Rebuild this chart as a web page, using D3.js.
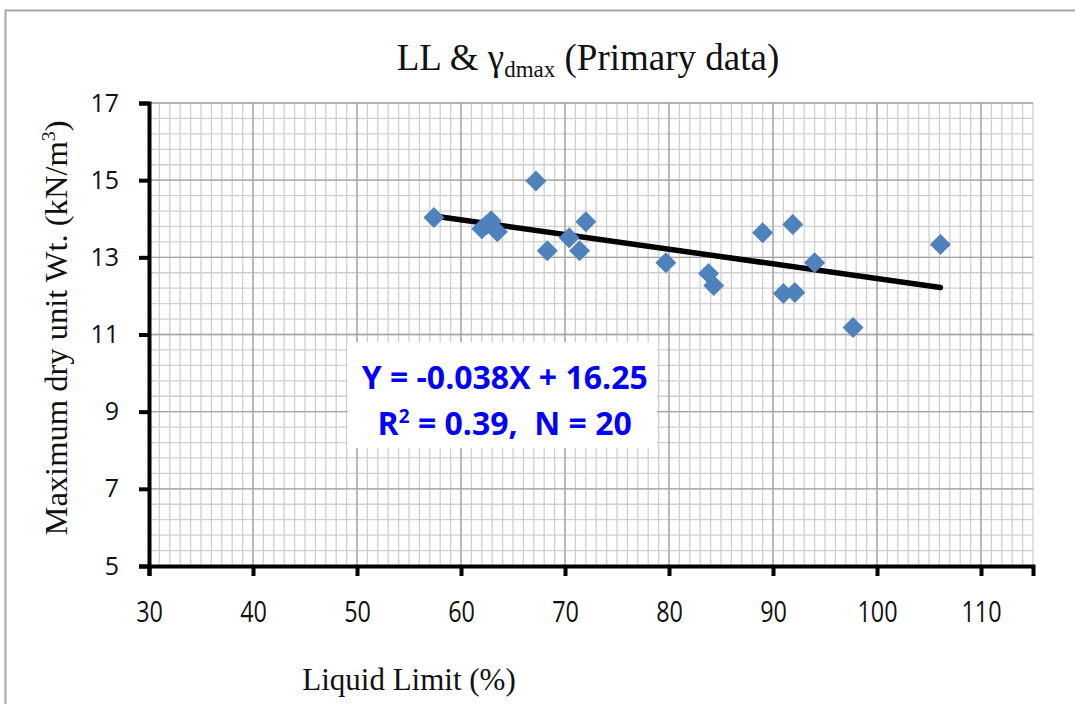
<!DOCTYPE html>
<html>
<head>
<meta charset="utf-8">
<script src="https://cdn.jsdelivr.net/npm/d3@7"></script>
<style>
  body{margin:0;background:#fff;}
  svg{display:block;}
</style>
</head>
<body>
<svg width="1075" height="704"></svg>
<script>
// liquid limit (%) and max dry unit weight (kN/m3)
var liquidLimit=[57.4,67.2,62.0,62.9,63.5,62.5,68.3,70.4,72.0,71.4,79.7,83.8,84.3,89.0,91.9,91.0,92.1,94.0,97.7,106.1];
var dryUnitWt=[14.03,14.98,13.74,13.95,13.66,13.85,13.17,13.51,13.92,13.17,12.86,12.58,12.27,13.64,13.85,12.06,12.09,12.86,11.18,13.33];
var xTicks=[30,40,50,60,70,80,90,100,110];
var yTicks=[5,7,9,11,13,15,17];
var slope=-0.038, intercept=16.25;

var svg=d3.select('svg');
var margin={top:103,left:149,right:42,bottom:138};
var W=1075-margin.left-margin.right;
var H=704-margin.top-margin.bottom;

// outer chart border
svg.append('rect').attr('x',5.5).attr('y',10.5).attr('width',1090).attr('height',720)
  .attr('fill','none').attr('stroke','#a6a6a6').attr('stroke-width',2);

var x=d3.scaleLinear().domain([30,115]).range([0,W]);
var y=d3.scaleLinear().domain([5,17]).range([H,0]);

var plot=svg.append('g').attr('transform','translate('+margin.left+','+margin.top+')');

// minor grid
plot.append('g').selectAll('line').data(d3.range(31,116,1)).enter().append('line')
  .attr('x1',function(d){return x(d);}).attr('x2',function(d){return x(d);})
  .attr('y1',0).attr('y2',H).attr('stroke','#cfcfcf').attr('stroke-width',1.3);
plot.append('g').selectAll('line').data(d3.range(0,31).map(function(i){return 5+i*0.4;})).enter().append('line')
  .attr('y1',function(d){return y(d);}).attr('y2',function(d){return y(d);})
  .attr('x1',0).attr('x2',W).attr('stroke','#cfcfcf').attr('stroke-width',1.3);
// major grid
plot.append('g').selectAll('line').data(xTicks.slice(1)).enter().append('line')
  .attr('x1',function(d){return x(d);}).attr('x2',function(d){return x(d);})
  .attr('y1',0).attr('y2',H).attr('stroke','#a3a3a3').attr('stroke-width',1.3);
plot.append('g').selectAll('line').data(yTicks.slice(1)).enter().append('line')
  .attr('y1',function(d){return y(d);}).attr('y2',function(d){return y(d);})
  .attr('x1',0).attr('x2',W).attr('stroke','#a3a3a3').attr('stroke-width',1.3);

// equation box
var box=plot.append('g');
box.append('rect').attr('x',x(49.1)).attr('y',y(10.8)).attr('width',x(78.85)-x(49.1)).attr('height',y(8.05)-y(10.8))
  .attr('fill','#fff');
box.append('text').attr('x',x(64.2)).attr('y',y(10.0)+16).attr('text-anchor','middle')
  .attr('font-family','Open Sans, sans-serif').attr('font-weight','bold').attr('font-size',32).attr('fill','#0000ff')
  .text('Y = -0.038X + 16.25');
var r2=box.append('text').attr('x',x(64.2)).attr('y',y(8.8)+16).attr('text-anchor','middle')
  .attr('font-family','Open Sans, sans-serif').attr('font-weight','bold').attr('font-size',32).attr('fill','#0000ff');
r2.append('tspan').text('R');
r2.append('tspan').attr('font-size',19).attr('dy',-12).text('2');
r2.append('tspan').attr('dy',12).text(' = 0.39,\u00a0 N = 20');

// axes
var xAxis=d3.axisBottom(x).tickValues(xTicks).tickSize(10).tickFormat(d3.format('d'));
var xg=plot.append('g').attr('transform','translate(0,'+H+')').call(xAxis);
xg.select('.domain').attr('stroke','#000').attr('stroke-width',4);
xg.selectAll('.tick line').attr('stroke','#000').attr('stroke-width',4);
xg.selectAll('.tick text').attr('font-family','Open Sans, sans-serif').attr('font-size',30)
  .attr('fill','#111').attr('dy',0).attr('y',56).attr('transform','scale(0.78,1)');

var yAxis=d3.axisLeft(y).tickValues(yTicks).tickSize(10);
var yg=plot.append('g').call(yAxis);
yg.select('.domain').attr('stroke','#000').attr('stroke-width',4);
yg.selectAll('.tick line').attr('stroke','#000').attr('stroke-width',4);
yg.selectAll('.tick text').attr('font-family','Open Sans, sans-serif').attr('font-size',25)
  .attr('fill','#111').attr('x',-30);

// trend line
var xs=d3.extent(liquidLimit);
plot.append('line')
  .attr('x1',x(xs[0])).attr('y1',y(slope*xs[0]+intercept))
  .attr('x2',x(xs[1])).attr('y2',y(slope*xs[1]+intercept))
  .attr('stroke','#000').attr('stroke-width',5.5).attr('stroke-linecap','round');

// points
var pts=liquidLimit.map(function(v,i){return [v,dryUnitWt[i]];});
plot.append('g').selectAll('path').data(pts).enter().append('path')
  .attr('d','M0,-10.5L10.5,0L0,10.5L-10.5,0Z')
  .attr('transform',function(d){return 'translate('+x(d[0])+','+y(d[1])+')';})
  .attr('fill','#4f81bd');

// title
var title=svg.append('text').attr('transform','translate(588,70)').attr('text-anchor','middle')
  .attr('font-family','Liberation Serif, serif').attr('font-size',37).attr('fill','#111');
title.append('tspan').text('LL & γ');
title.append('tspan').attr('font-size',23).attr('dy',7).text('dmax');
title.append('tspan').attr('dy',-7).text(' (Primary data)');

// y label
var yl=svg.append('text').attr('transform','translate(67,328) rotate(-90) scale(1.05,1)').attr('text-anchor','middle')
  .attr('font-family','Liberation Serif, serif').attr('font-size',31).attr('fill','#111');
yl.append('tspan').text('Maximum dry unit Wt. (kN/m');
yl.append('tspan').attr('font-size',19).attr('dy',-12).text('3');
yl.append('tspan').attr('dy',12).text(')');

// x label
svg.append('text').attr('transform','translate(409,690)').attr('text-anchor','middle')
  .attr('font-family','Liberation Serif, serif').attr('font-size',31).attr('fill','#111')
  .text('Liquid Limit (%)');
</script>
</body>
</html>
